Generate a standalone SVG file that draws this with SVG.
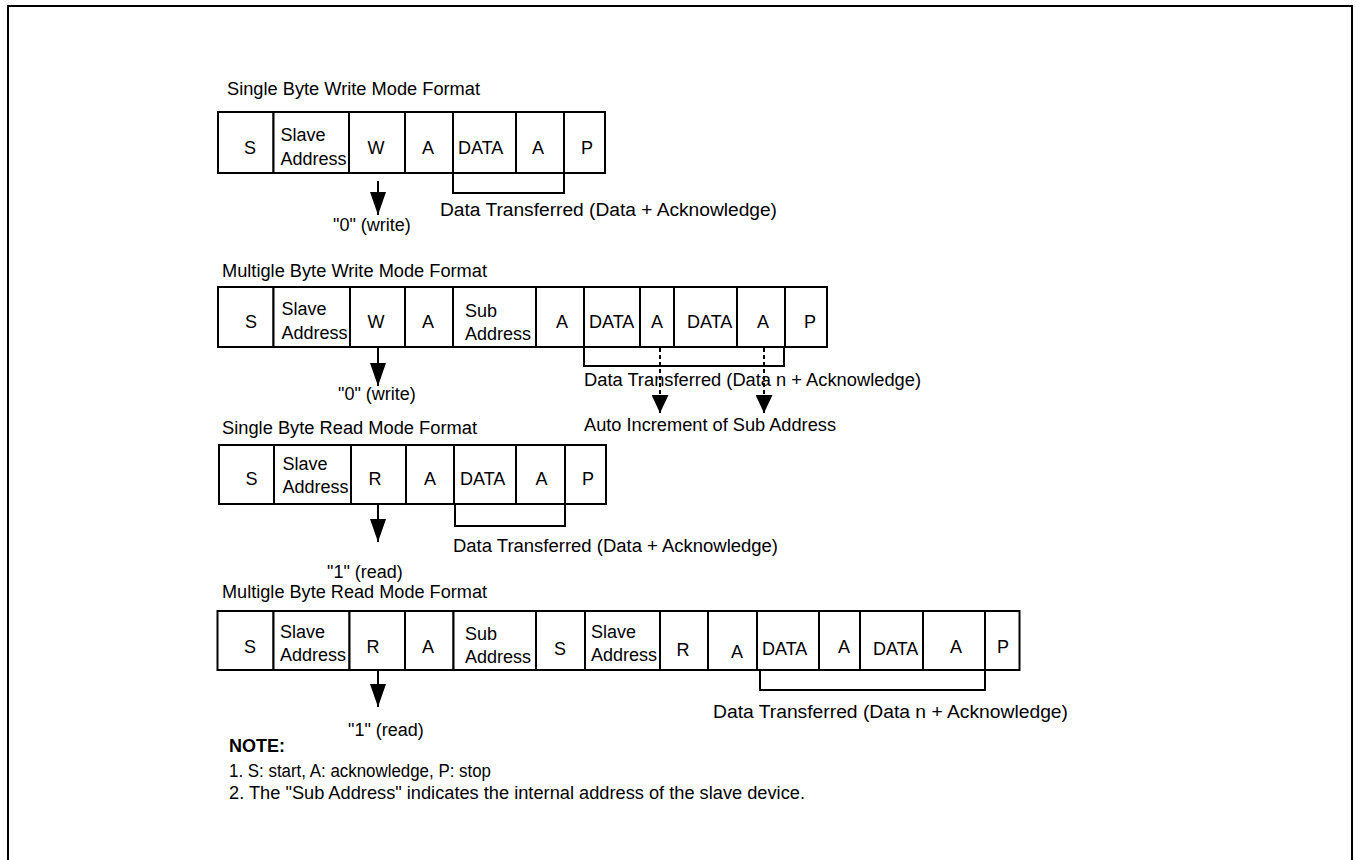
<svg xmlns="http://www.w3.org/2000/svg" width="1356" height="860" viewBox="0 0 1356 860">
<style>
text{font-family:"Liberation Sans",Arial,sans-serif;font-size:18px;fill:#000}
.c{fill:#fff;stroke:#000;stroke-width:2}
.m{text-anchor:middle}
.b{font-weight:bold}
.ln{fill:none;stroke:#000;stroke-width:2}
.ds{fill:none;stroke:#000;stroke-width:2;stroke-dasharray:4 3}
</style>
<defs>
<marker id="ah" viewBox="0 0 23 16" markerWidth="23" markerHeight="16" refX="23" refY="8" orient="auto" markerUnits="userSpaceOnUse"><path d="M0,0 L23,8 L0,16 Z" fill="#000"/></marker>
<marker id="ahd" viewBox="0 0 18 17" markerWidth="18" markerHeight="17" refX="18" refY="8.5" orient="auto" markerUnits="userSpaceOnUse"><path d="M0,0 L18,8.5 L0,17 Z" fill="#000"/></marker>
</defs>
<rect x="8" y="6" width="1344" height="870" fill="#fff" stroke="#000" stroke-width="2"/>

<g id="frame1">
<text x="227" y="95" textLength="253" lengthAdjust="spacingAndGlyphs">Single Byte Write Mode Format</text>
<rect class="c" x="218" y="112" width="55.5" height="61"/>
<rect class="c" x="273.5" y="112" width="75.5" height="61"/>
<rect class="c" x="349" y="112" width="56" height="61"/>
<rect class="c" x="405" y="112" width="48" height="61"/>
<rect class="c" x="453" y="112" width="63" height="61"/>
<rect class="c" x="516" y="112" width="48" height="61"/>
<rect class="c" x="564" y="112" width="41" height="61"/>
<text class="m" x="250" y="154">S</text>
<text x="280.5" y="141">Slave</text>
<text x="280.5" y="165">Address</text>
<text class="m" x="376" y="154">W</text>
<text class="m" x="428" y="154">A</text>
<text x="458" y="154">DATA</text>
<text class="m" x="538" y="154">A</text>
<text class="m" x="587" y="154">P</text>
<text x="333" y="231">"0" (write)</text>
<text x="440" y="216" textLength="337" lengthAdjust="spacingAndGlyphs">Data Transferred (Data + Acknowledge)</text>
</g>

<g id="frame2">
<text x="222" y="277" textLength="265" lengthAdjust="spacingAndGlyphs">Multigle Byte Write Mode Format</text>
<rect class="c" x="218" y="287" width="55.5" height="60"/>
<rect class="c" x="273.5" y="287" width="76.5" height="60"/>
<rect class="c" x="350" y="287" width="55" height="60"/>
<rect class="c" x="405" y="287" width="48" height="60"/>
<rect class="c" x="453" y="287" width="83" height="60"/>
<rect class="c" x="536" y="287" width="48" height="60"/>
<rect class="c" x="584" y="287" width="56" height="60"/>
<rect class="c" x="640" y="287" width="34" height="60"/>
<rect class="c" x="674" y="287" width="63" height="60"/>
<rect class="c" x="737" y="287" width="48" height="60"/>
<rect class="c" x="785" y="287" width="42" height="60"/>
<text class="m" x="251" y="328">S</text>
<text x="281.5" y="315">Slave</text>
<text x="281.5" y="339">Address</text>
<text class="m" x="376" y="328">W</text>
<text class="m" x="428" y="328">A</text>
<text x="465" y="317">Sub</text>
<text x="465" y="340">Address</text>
<text class="m" x="562" y="328">A</text>
<text x="589" y="328">DATA</text>
<text class="m" x="657" y="328">A</text>
<text x="687" y="328">DATA</text>
<text class="m" x="763" y="328">A</text>
<text class="m" x="810" y="328">P</text>
<text x="338" y="400">"0" (write)</text>
<text x="584" y="386" textLength="337" lengthAdjust="spacingAndGlyphs">Data Transferred (Data n + Acknowledge)</text>
<text x="584" y="431" textLength="252" lengthAdjust="spacingAndGlyphs">Auto Increment of Sub Address</text>
</g>

<g id="frame3">
<text x="222" y="434" textLength="255" lengthAdjust="spacingAndGlyphs">Single Byte Read Mode Format</text>
<rect class="c" x="219" y="445" width="55" height="59"/>
<rect class="c" x="274" y="445" width="77" height="59"/>
<rect class="c" x="351" y="445" width="55" height="59"/>
<rect class="c" x="406" y="445" width="48" height="59"/>
<rect class="c" x="454" y="445" width="62" height="59"/>
<rect class="c" x="516" y="445" width="49" height="59"/>
<rect class="c" x="565" y="445" width="41" height="59"/>
<text class="m" x="251.5" y="485">S</text>
<text x="282.5" y="470">Slave</text>
<text x="282.5" y="493">Address</text>
<text class="m" x="375" y="485">R</text>
<text class="m" x="430" y="485">A</text>
<text x="460" y="485">DATA</text>
<text class="m" x="541.5" y="485">A</text>
<text class="m" x="588" y="485">P</text>
<text x="327" y="578">"1" (read)</text>
<text x="453" y="552" textLength="325" lengthAdjust="spacingAndGlyphs">Data Transferred (Data + Acknowledge)</text>
</g>

<g id="frame4">
<text x="222" y="598" textLength="265" lengthAdjust="spacingAndGlyphs">Multigle Byte Read Mode Format</text>
<rect class="c" x="217.5" y="611" width="56" height="59"/>
<rect class="c" x="273.5" y="611" width="76" height="59"/>
<rect class="c" x="349.5" y="611" width="55.5" height="59"/>
<rect class="c" x="405" y="611" width="48.5" height="59"/>
<rect class="c" x="453.5" y="611" width="82.5" height="59"/>
<rect class="c" x="536" y="611" width="49" height="59"/>
<rect class="c" x="585" y="611" width="75" height="59"/>
<rect class="c" x="660" y="611" width="48" height="59"/>
<rect class="c" x="708" y="611" width="49" height="59"/>
<rect class="c" x="757" y="611" width="62" height="59"/>
<rect class="c" x="819" y="611" width="41" height="59"/>
<rect class="c" x="860" y="611" width="63" height="59"/>
<rect class="c" x="923" y="611" width="62" height="59"/>
<rect class="c" x="985" y="611" width="34.5" height="59"/>
<text class="m" x="250" y="653">S</text>
<text x="280" y="638">Slave</text>
<text x="280" y="661">Address</text>
<text class="m" x="373" y="653">R</text>
<text class="m" x="428" y="653">A</text>
<text x="465" y="640">Sub</text>
<text x="465" y="663">Address</text>
<text class="m" x="560" y="655">S</text>
<text x="591" y="638">Slave</text>
<text x="591" y="661">Address</text>
<text class="m" x="683" y="656">R</text>
<text class="m" x="737" y="658">A</text>
<text x="762" y="655">DATA</text>
<text class="m" x="844" y="653">A</text>
<text x="873" y="655">DATA</text>
<text class="m" x="956" y="653">A</text>
<text class="m" x="1003" y="653">P</text>
<text x="348" y="736">"1" (read)</text>
<text x="713" y="718" textLength="355" lengthAdjust="spacingAndGlyphs">Data Transferred (Data n + Acknowledge)</text>
</g>

<g id="connectors">
<line class="ln" x1="378" y1="181" x2="378" y2="215" marker-end="url(#ah)"/>
<path class="ln" d="M453,173 V193 H564 V173"/>
<line class="ln" x1="378" y1="347" x2="378" y2="386" marker-end="url(#ah)"/>
<path class="ln" d="M584,347 V366 H784 V347"/>
<line class="ds" x1="660" y1="348" x2="660" y2="413" marker-end="url(#ahd)"/>
<line class="ds" x1="764" y1="348" x2="764" y2="413" marker-end="url(#ahd)"/>
<line class="ln" x1="378" y1="504" x2="378" y2="542" marker-end="url(#ah)"/>
<path class="ln" d="M455,504 V526 H565 V504"/>
<line class="ln" x1="378" y1="670" x2="378" y2="707" marker-end="url(#ah)"/>
<path class="ln" d="M760,670 V690 H985 V670"/>
</g>

<g id="notes">
<text class="b" x="229" y="752">NOTE:</text>
<text x="229" y="777" textLength="262" lengthAdjust="spacingAndGlyphs">1. S: start, A: acknowledge, P: stop</text>
<text x="229" y="799" textLength="576" lengthAdjust="spacingAndGlyphs">2. The "Sub Address" indicates the internal address of the slave device.</text>
</g>
</svg>
